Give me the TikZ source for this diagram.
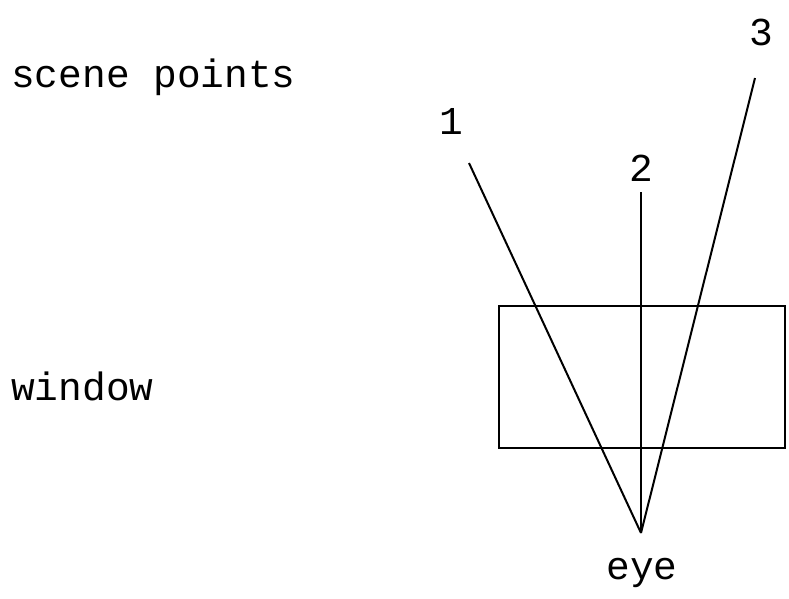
\documentclass[tikz,border=0pt]{standalone}
\usepackage{fontspec}
\setmonofont{Liberation Mono}
\usetikzlibrary{positioning}

\begin{document}
\begin{tikzpicture}[x=1pt,y={(0pt,-1pt)},
    lbl/.style={font=\ttfamily\fontsize{39.5}{40}\selectfont, inner sep=0pt},
    ray/.style={line width=2pt},
    win/.style={draw, line width=2pt}]
    \useasboundingbox (0,0) rectangle (789,598);

    % Left captions
    \node[lbl, anchor=base west] (scene) at (11,87) {scene points};
    \node[lbl, anchor=base west] (wintext) at (11,400) {window};

    % Window
    \draw[win] (499,306) rectangle (785,448);

    % Scene points and eye
    \coordinate (pone) at (469,163);
    \coordinate (ptwo) at (641,192);
    \coordinate (pthree) at (755,78);
    \coordinate (eye) at (641,533);

    % Rays
    \draw[ray] (pone) -- (eye);
    \draw[ray] (ptwo) -- (eye);
    \draw[ray] (pthree) -- (eye);

    % Labels
    \node[lbl] (lone) at (451,121) {1};
    \node[lbl] (ltwo) at (641,168) {2};
    \node[lbl] (lthree) at (761,32) {3};
    \node[lbl] (leye) at (642,573) {eye};
\end{tikzpicture}
\end{document}
